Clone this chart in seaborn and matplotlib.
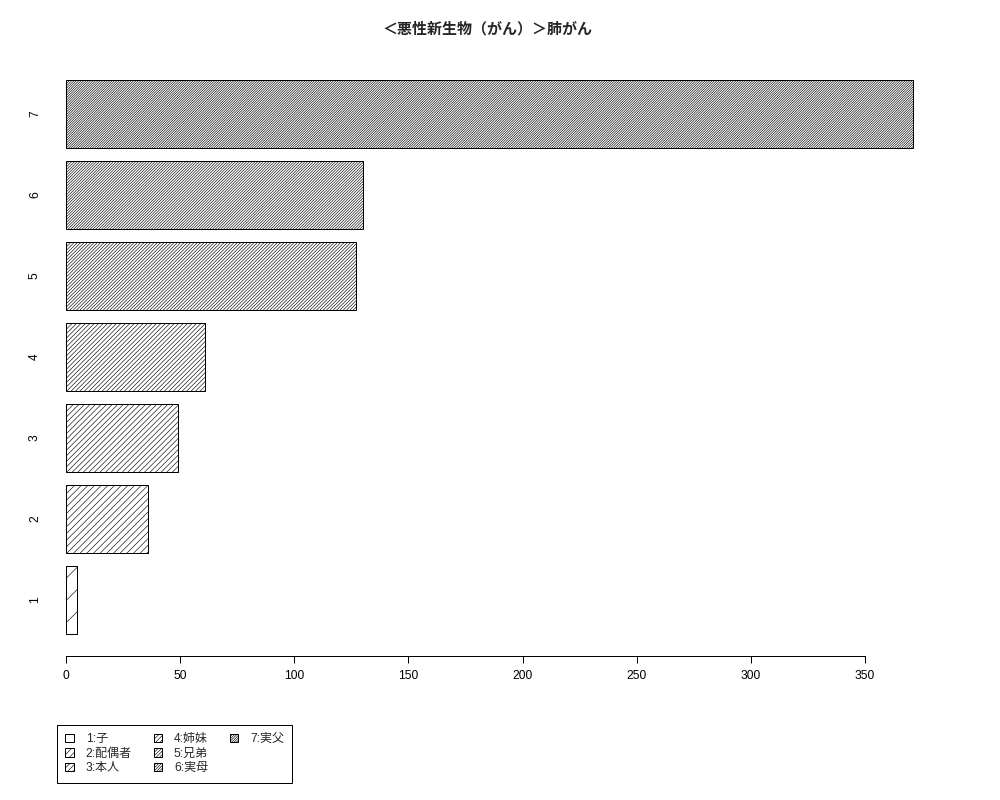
import matplotlib

matplotlib.use("Agg")

import matplotlib.pyplot as plt
from matplotlib.patches import Patch
import pandas as pd
import seaborn as sns

# drawn at 200 dpi so the hatch spacing can be tuned per bar;
# sizes below are written in output pixels and converted with PX
_DPI = 200
PX = 72 / _DPI

title = "＜悪性新生物（がん）＞肺がん"
categories = ["1", "2", "3", "4", "5", "6", "7"]
counts = [5, 36, 49, 61, 127, 130, 371]
legend_labels = ["1:子", "2:配偶者", "3:本人", "4:姉妹", "5:兄弟", "6:実母", "7:実父"]
x_ticks = [0, 50, 100, 150, 200, 250, 300, 350]

# hatch density per category (number of '/' repeats)
hatch_repeats = [3, 10, 12, 15, 20, 24, 28]

sns.set_style("white")
plt.rcParams["font.family"] = ["Liberation Sans", "Noto Sans CJK JP", "DejaVu Sans"]
plt.rcParams["hatch.linewidth"] = 0.6 * PX
plt.rcParams["hatch.color"] = "black"

df = pd.DataFrame({"rank": categories, "count": counts})
order = categories[::-1]
hatch_of = {c: "/" * n for c, n in zip(categories, hatch_repeats)}

fig = plt.figure(figsize=(1000 / _DPI, 800 / _DPI), dpi=_DPI)
ax = fig.add_axes([50 / 1000, 1 - 656 / 800, (947 - 50) / 1000, (656 - 58) / 800])

sns.barplot(
    data=df,
    x="count",
    y="rank",
    order=order,
    orient="h",
    color="white",
    saturation=1,
    edgecolor="black",
    linewidth=1 * PX,
    width=1 / 1.2,
    errorbar=None,
    ax=ax,
)

for patch in ax.patches:
    pos = int(round(patch.get_y() + patch.get_height() / 2))
    patch.set_hatch(hatch_of[order[pos]])

# pixel mapping of the reference: 0 -> 66px, 350 -> 865px
scale = (865 - 66) / 350
ax.set_xlim(-(66 - 50) / scale, (947 - 66) / scale)
ax.set_ylim(6.4167 + 0.2733, -0.4167 - 0.2733)

for side in ["top", "right", "left"]:
    ax.spines[side].set_visible(False)
ax.spines["bottom"].set_bounds(0, 350)
ax.spines["bottom"].set_color("black")
ax.spines["bottom"].set_linewidth(1 * PX)

ax.set_xticks(x_ticks)
ax.set_xticklabels([str(t) for t in x_ticks])
ax.tick_params(axis="x", direction="out", length=7 * PX, width=1 * PX,
               colors="black", labelsize=12 * PX, pad=7 * PX, bottom=True)
ax.tick_params(axis="y", length=0, labelsize=12 * PX, pad=9 * PX, colors="black")
for lab in ax.get_yticklabels():
    lab.set_rotation(90)
    lab.set_va("center")

ax.set_xlabel("")
ax.set_ylabel("")

fig.text(487 / 1000, 1 - 29 / 800, title, ha="center", va="center",
         fontsize=15 * PX, fontweight="bold")

handles = [
    Patch(facecolor="white", edgecolor="black", linewidth=1 * PX, hatch="/" * n)
    for n in hatch_repeats
]
labels = list(legend_labels)
# pad the third column so entries fill as 3 / 3 / 1
blank = Patch(visible=False)
handles += [blank, blank]
labels += ["", ""]

leg = fig.legend(
    handles,
    labels,
    ncol=3,
    loc="upper left",
    bbox_to_anchor=(57 / 1000, 1 - 725 / 800),
    borderaxespad=0,
    frameon=True,
    fancybox=False,
    edgecolor="black",
    framealpha=1,
    fontsize=12 * PX,
    handlelength=0.7,
    handleheight=0.7,
    handletextpad=1.0,
    columnspacing=1.8,
    labelspacing=0.2,
    borderpad=0.7,
)
leg.get_frame().set_linewidth(1 * PX)

fig.savefig("out.png", dpi=_DPI)
plt.close(fig)
